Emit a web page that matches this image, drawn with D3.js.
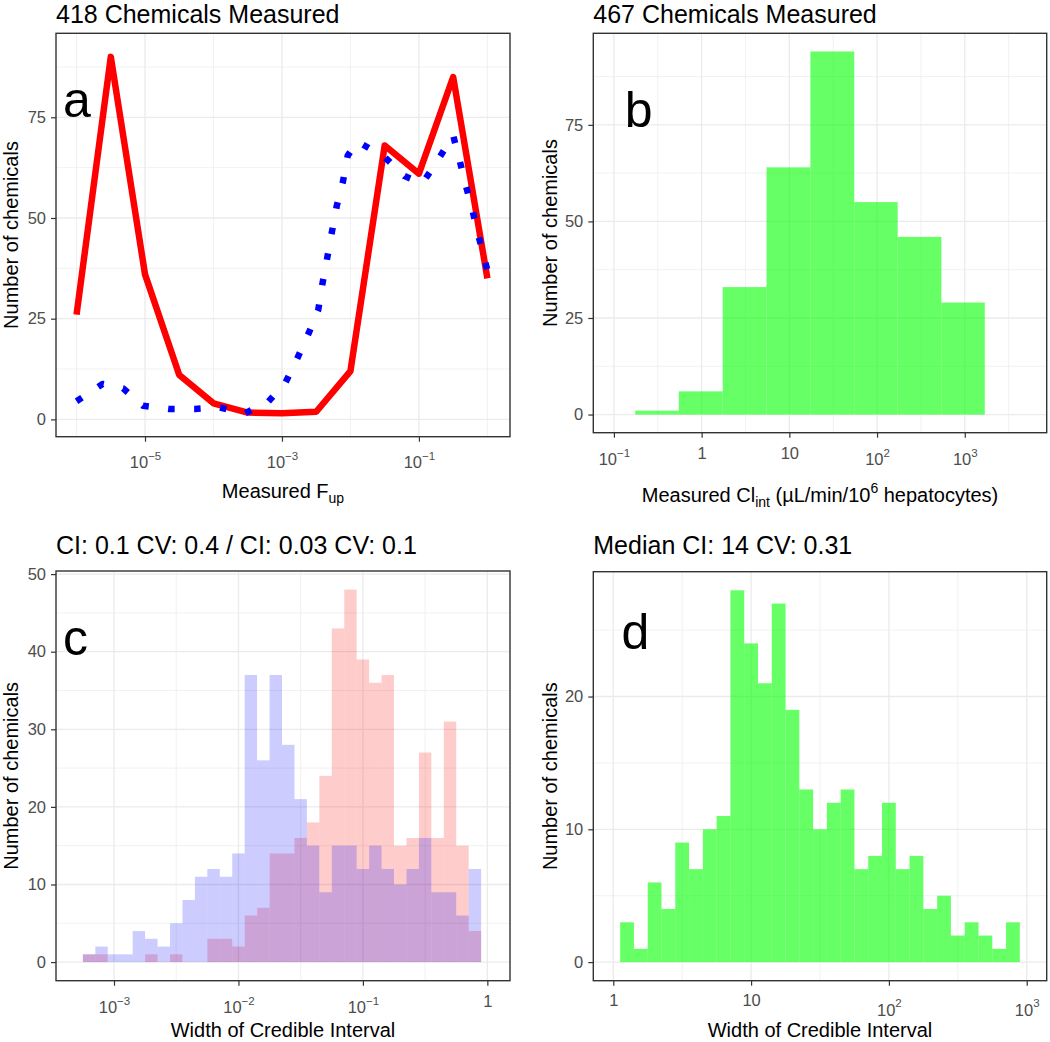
<!DOCTYPE html>
<html><head><meta charset="utf-8">
<script src="https://cdn.jsdelivr.net/npm/d3@7"></script>
<style>
body{margin:0;background:#fff;}
svg{display:block;font-family:"Liberation Sans",Arial,Helvetica,sans-serif;}
</style>
</head><body>
<svg id="chart" width="1050" height="1042"></svg>
<script>
// ---------------- DATA ----------------
// Panel a: measured Fup (log10 positions) and counts
const aRedLogX  = [-6, -5.5, -5, -4.5, -4, -3.5, -3, -2.5, -2, -1.5, -1, -0.5, 0];
const aRedCount = [26, 90, 36, 11, 4, 1.7, 1.5, 1.9, 12, 68, 61, 85, 35];
const aBlueLogX  = [-6.0, -5.62, -5.32, -5.03, -4.65, -4.27, -3.92, -3.54, -3.20, -2.95, -2.78, -2.61, -2.47, -2.41, -2.34, -2.27, -2.20, -2.11, -2.04, -1.90, -1.50, -1.21, -0.95, -0.73, -0.50, -0.41, -0.32, -0.22, -0.13, 0.0];
const aBlueCount = [4.5, 8.8, 7.7, 3.4, 2.6, 2.6, 3.0, 1.5, 4.4, 9.1, 15.0, 21.4, 27.2, 33.6, 40.0, 46.6, 53.0, 59.0, 65.5, 69.0, 65.1, 60.4, 58.6, 64.2, 70.5, 64.6, 58.4, 52.0, 45.6, 37.0];

// Panel b: measured Clint histogram (log10 bin edges)
const bEdges  = [-0.757, -0.26, 0.24, 0.74, 1.24, 1.74, 2.235, 2.733, 3.228];
const bCounts = [1, 6, 33, 64, 94, 55, 46, 29];

// Panel c: width of credible interval (Fup), log10 bin edges
const cEdges = [-3.25, -3.15, -3.05, -2.95, -2.85, -2.75, -2.65, -2.55, -2.45, -2.35, -2.25, -2.15, -2.05, -1.95, -1.85, -1.75, -1.65, -1.55, -1.45, -1.35, -1.25, -1.15, -1.05, -0.95, -0.85, -0.75, -0.65, -0.55, -0.45, -0.35, -0.25, -0.15, -0.05];
const cRed  = [1, 1, 0, 0, 0, 1, 0, 1, 0, 0, 3, 3, 2, 6, 7, 14, 14, 16, 18, 24, 43, 48, 39, 36, 37, 15, 16, 27, 16, 31, 15, 4];
const cBlue = [1, 2, 1, 1, 4, 3, 2, 5, 8, 11, 12, 11, 14, 37, 26, 37, 28, 21, 15, 9, 15, 15, 12, 15, 12, 10, 12, 16, 9, 9, 6, 12];

// Panel d: width of credible interval (Clint), log10 bin edges
const dEdges = [0.05, 0.15, 0.25, 0.35, 0.45, 0.55, 0.65, 0.75, 0.85, 0.95, 1.05, 1.15, 1.25, 1.35, 1.45, 1.55, 1.65, 1.75, 1.85, 1.95, 2.05, 2.15, 2.25, 2.35, 2.45, 2.55, 2.65, 2.75, 2.85, 2.95];
const dCounts = [3, 1, 6, 4, 9, 7, 10, 11, 28, 24, 21, 27, 19, 13, 10, 12, 13, 7, 8, 12, 7, 8, 4, 5, 2, 3, 2, 1, 3];

// Ticks and labels
const aXTicks = [-5, -3, -1], aXMinor = [-6, -4, -2, 0], aXLabels = ["10^\u22125", "10^\u22123", "10^\u22121"];
const bXTicks = [-1, 0, 1, 2, 3], bXMinor = [-0.5, 0.5, 1.5, 2.5, 3.5], bXLabels = ["10^\u22121", "1", "10", "10^2", "10^3"];
const cXTicks = [-3, -2, -1, 0], cXMinor = [-2.5, -1.5, -0.5], cXLabels = ["10^\u22123", "10^\u22122", "10^\u22121", "1"];
const dXTicks = [0, 1, 2, 3], dXMinor = [0.5, 1.5, 2.5], dXLabels = ["1", "10", "10^2", "10^3"];
const abYTicks = [0, 25, 50, 75], abYMinor = [12.5, 37.5, 62.5, 87.5];
const cYTicks = [0, 10, 20, 30, 40, 50], cYMinor = [5, 15, 25, 35, 45];
const dYTicks = [0, 10, 20], dYMinor = [5, 15, 25];

const titles = ["418 Chemicals Measured", "467 Chemicals Measured", "CI: 0.1 CV: 0.4 / CI: 0.03 CV: 0.1", "Median CI: 14 CV: 0.31"];
const letters = ["a", "b", "c", "d"];

// ---------------- DRAW ----------------
const svg = d3.select("#chart");
svg.append("rect").attr("width", 1050).attr("height", 1042).attr("fill", "#fff");

function panel(cfg) {
  const g = svg.append("g");
  const x = d3.scaleLog().domain([Math.pow(10, cfg.xd[0]), Math.pow(10, cfg.xd[1])]).range([cfg.l, cfg.r]);
  const y = d3.scaleLinear().domain(cfg.yd).range([cfg.b, cfg.t]);
  const clipId = "clip" + cfg.id;
  svg.append("clipPath").attr("id", clipId).append("rect")
    .attr("x", cfg.l).attr("y", cfg.t).attr("width", cfg.r - cfg.l).attr("height", cfg.b - cfg.t);

  // grid
  const grid = g.append("g");
  grid.selectAll(".vmin").data(cfg.xMinor).join("line")
    .attr("x1", d => x(Math.pow(10, d))).attr("x2", d => x(Math.pow(10, d)))
    .attr("y1", cfg.t).attr("y2", cfg.b).attr("stroke", "#EBEBEB").attr("stroke-width", 0.7);
  grid.selectAll(".hmin").data(cfg.yMinor).join("line")
    .attr("y1", d => y(d)).attr("y2", d => y(d))
    .attr("x1", cfg.l).attr("x2", cfg.r).attr("stroke", "#EBEBEB").attr("stroke-width", 0.7);
  grid.selectAll(".vmaj").data(cfg.xTicks).join("line")
    .attr("x1", d => x(Math.pow(10, d))).attr("x2", d => x(Math.pow(10, d)))
    .attr("y1", cfg.t).attr("y2", cfg.b).attr("stroke", "#EBEBEB").attr("stroke-width", 1.3);
  grid.selectAll(".hmaj").data(cfg.yTicks).join("line")
    .attr("y1", d => y(d)).attr("y2", d => y(d))
    .attr("x1", cfg.l).attr("x2", cfg.r).attr("stroke", "#EBEBEB").attr("stroke-width", 1.3);

  const marks = g.append("g").attr("clip-path", `url(#${clipId})`);
  cfg.draw(marks, x, y);

  // axes
  const xa = g.append("g").attr("transform", `translate(0,${cfg.b})`)
    .call(d3.axisBottom(x).tickValues(cfg.xTicks.map(e => Math.pow(10, e))).tickSize(5).tickSizeOuter(0));
  xa.select(".domain").remove();
  xa.selectAll(".tick line").attr("stroke", "#333333").attr("stroke-width", 1.2);
  xa.selectAll(".tick text").each(function (d, i) {
    const t = d3.select(this);
    const lab = cfg.xLabels[i];
    t.text(null).attr("dy", null).attr("fill", "#4D4D4D").attr("font-size", 16.5)
      .attr("font-family", '"Liberation Sans",Arial,sans-serif');
    if (lab.includes("^")) {
      const parts = lab.split("^");
      t.attr("y", cfg.supOff);
      t.append("tspan").text(parts[0]);
      t.append("tspan").attr("font-size", 11.5).attr("dy", -8.3).text(parts[1]);
    } else {
      t.attr("y", cfg.plainOff).text(lab);
    }
  });

  const ya = g.append("g").attr("transform", `translate(${cfg.l},0)`)
    .call(d3.axisLeft(y).tickValues(cfg.yTicks).tickSize(5).tickPadding(5).tickSizeOuter(0));
  ya.select(".domain").remove();
  ya.selectAll(".tick line").attr("stroke", "#333333").attr("stroke-width", 1.2);
  ya.selectAll(".tick text").attr("fill", "#4D4D4D").attr("font-size", 16.5)
    .attr("font-family", '"Liberation Sans",Arial,sans-serif');

  // border
  g.append("rect").attr("x", cfg.l).attr("y", cfg.t).attr("width", cfg.r - cfg.l).attr("height", cfg.b - cfg.t)
    .attr("fill", "none").attr("stroke", "#333333").attr("stroke-width", 1.4);

  // title
  g.append("text").attr("x", cfg.l).attr("y", cfg.titleY).attr("font-size", 25).attr("fill", "#000")
    .text(cfg.title);
  // panel letter
  g.append("text").attr("x", cfg.letterX).attr("y", cfg.letterY).attr("font-size", 50).attr("fill", "#000")
    .text(cfg.letter);
  // y title
  g.append("text").attr("transform", `translate(${cfg.yTitleX},${(cfg.t + cfg.b) / 2}) rotate(-90)`)
    .attr("text-anchor", "middle").attr("font-size", 20).attr("fill", "#000").text("Number of chemicals");
  // x title
  const xt = g.append("text").attr("x", (cfg.l + cfg.r) / 2).attr("y", cfg.xTitleY)
    .attr("text-anchor", "middle").attr("font-size", 20).attr("fill", "#000");
  cfg.xTitle(xt);
}

function hist(sel, x, y, edges, counts, color, opacity) {
  const bins = counts.map((c, i) => ({ x0: edges[i], x1: edges[i + 1], c })).filter(d => d.c > 0);
  sel.append("g").selectAll("rect").data(bins).join("rect")
    .attr("x", d => x(Math.pow(10, d.x0)))
    .attr("width", d => x(Math.pow(10, d.x1)) - x(Math.pow(10, d.x0)))
    .attr("y", d => y(d.c))
    .attr("height", d => y(0) - y(d.c))
    .attr("fill", color).attr("fill-opacity", opacity);
}

// Panel a
panel({
  id: "a", l: 56, r: 510, t: 33.3, b: 436.7, xd: [-6.3, 0.33], yd: [-4.3, 95.85],
  xTicks: aXTicks, xMinor: aXMinor, xLabels: aXLabels, yTicks: abYTicks, yMinor: abYMinor,
  supOff: 31.6, plainOff: 26, title: titles[0], titleY: 23, letter: letters[0], letterX: 63, letterY: 117,
  yTitleX: 18.3, xTitleY: 498.3,
  xTitle: t => { t.append("tspan").text("Measured F"); t.append("tspan").attr("font-size", 14).attr("dy", 5).text("up"); },
  draw: (s, x, y) => {
    const red = aRedLogX.map((v, i) => [v, aRedCount[i]]);
    const blue = aBlueLogX.map((v, i) => [v, aBlueCount[i]]);
    const line = d3.line().x(d => x(Math.pow(10, d[0]))).y(d => y(d[1]));
    s.append("path").attr("d", line(red)).attr("fill", "none").attr("stroke", "#FF0000")
      .attr("stroke-width", 6.5).attr("stroke-linejoin", "round").attr("stroke-linecap", "butt");
    s.append("path").attr("d", line(blue)).attr("fill", "none").attr("stroke", "#0000FF")
      .attr("stroke-width", 6.5).attr("stroke-dasharray", "6.5 19.5").attr("stroke-linecap", "butt")
      .attr("stroke-linejoin", "round");
  }
});

// Panel b
panel({
  id: "b", l: 593.3, r: 1046.7, t: 33.3, b: 432.7, xd: [-1.235, 3.934], yd: [-4.7, 98.7],
  xTicks: bXTicks, xMinor: bXMinor, xLabels: bXLabels, yTicks: abYTicks, yMinor: abYMinor,
  supOff: 32.3, plainOff: 26.6, title: titles[1], titleY: 23, letter: letters[1], letterX: 624.7, letterY: 126.7,
  yTitleX: 556.5, xTitleY: 501.5,
  xTitle: t => {
    t.append("tspan").text("Measured Cl");
    t.append("tspan").attr("font-size", 14).attr("dy", 5).text("int");
    t.append("tspan").attr("dy", -5).text(" (\u00B5L/min/10");
    t.append("tspan").attr("font-size", 14).attr("dy", -9).text("6");
    t.append("tspan").attr("dy", 9).text(" hepatocytes)");
  },
  draw: (s, x, y) => hist(s, x, y, bEdges, bCounts, "#00FF00", 0.6)
});

// Panel c
panel({
  id: "c", l: 56, r: 510, t: 571, b: 980.7, xd: [-3.466, 0.182], yd: [-2.4, 50.4],
  xTicks: cXTicks, xMinor: cXMinor, xLabels: cXLabels, yTicks: cYTicks, yMinor: cYMinor,
  supOff: 32.6, plainOff: 26, title: titles[2], titleY: 554.3, letter: letters[2], letterX: 63, letterY: 655,
  yTitleX: 18.3, xTitleY: 1037.3,
  xTitle: t => t.text("Width of Credible Interval"),
  draw: (s, x, y) => {
    hist(s, x, y, cEdges, cRed, "#FF0000", 0.2);
    hist(s, x, y, cEdges, cBlue, "#0000FF", 0.2);
  }
});

// Panel d
panel({
  id: "d", l: 593.3, r: 1046.7, t: 571.7, b: 980.7, xd: [-0.145, 3.145], yd: [-1.4, 29.4],
  xTicks: dXTicks, xMinor: dXMinor, xLabels: dXLabels, yTicks: dYTicks, yMinor: dYMinor,
  supOff: 35, plainOff: 25.3, title: titles[3], titleY: 554.3, letter: letters[3], letterX: 621.5, letterY: 649.3,
  yTitleX: 556.5, xTitleY: 1037.3,
  xTitle: t => t.text("Width of Credible Interval"),
  draw: (s, x, y) => hist(s, x, y, dEdges, dCounts, "#00FF00", 0.6)
});
</script>
</body></html>
